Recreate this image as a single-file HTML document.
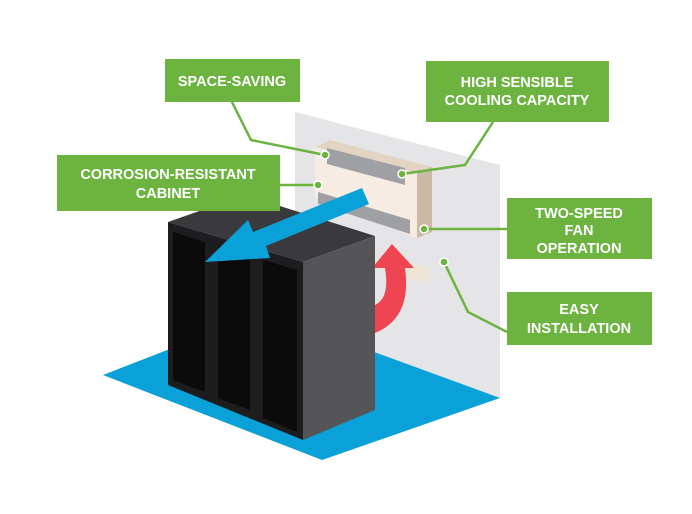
<!DOCTYPE html>
<html><head><style>
html,body{margin:0;padding:0;background:#fff;}
svg{display:block;}
text{font-family:"Liberation Sans",sans-serif;font-weight:bold;fill:#fff;font-size:14.5px;text-anchor:middle;}
</style></head><body>
<svg width="692" height="514" viewBox="0 0 692 514">
<!-- wall -->
<polygon points="295,112 500,165 500,398 295,340" fill="#e5e5e7"/>
<!-- floor -->
<polygon points="103,375 265,312 500,398 322,460" fill="#0aa0d8"/>
<!-- outlet -->
<polygon points="405,262 430,268 430,283 405,277" fill="#efe3d6"/>
<!-- red arrow -->
<path d="M375,333 Q412,318 405,268 L414,268 L392,244 L372,268 L385,268 Q390,298 375,305 Z" fill="#ef4452"/>
<!-- AC unit -->
<polygon points="315,147 330,140 432,167 417,173" fill="#e3d3c3"/>
<polygon points="417,173 432,167 432,232 417,238" fill="#cbb8a5"/>
<polygon points="315,147 417,173 417,238 315,197" fill="#f6ece3"/>
<polygon points="327,148 405,168 405,185 327,164" fill="#9fa0a3"/>
<polygon points="318,192 410,220 410,234 318,204" fill="#9fa0a3"/>
<!-- cabinet -->
<polygon points="168,222 245,195 375,236 303,262" fill="#3a3a3c"/>
<polygon points="168,222 303,262 303,440 168,385" fill="#1d1d1f"/>
<polygon points="303,262 375,236 375,410 303,440" fill="#555557"/>
<polygon points="173,232 205,242 205,392 173,380" fill="#0b0b0c"/>
<polygon points="218,246 250,256 250,410 218,398" fill="#0b0b0c"/>
<polygon points="263,260 297,270 297,432 263,418" fill="#0b0b0c"/>
<!-- blue arrow -->
<polygon points="362,188 369,204 266,246 270,258 205,262 248,220 253,232" fill="#0aa0d8"/>
<!-- leader lines -->
<g stroke="#6cb33f" stroke-width="2.5" fill="none">
<polyline points="231,100 251,140 325,155"/>
<polyline points="493,122 465,165 402,174"/>
<polyline points="279,185 318,185"/>
<polyline points="507,229 424,229"/>
<polyline points="507,332 468,312 444,262"/>
</g>
<g fill="#6cb33f" stroke="#fff" stroke-width="1.5">
<circle cx="325" cy="155" r="4"/><circle cx="402" cy="174" r="4"/><circle cx="318" cy="185" r="4"/><circle cx="424" cy="229" r="4"/><circle cx="444" cy="262" r="4"/>
</g>
<!-- labels -->
<g fill="#6cb33f">
<rect x="165" y="59" width="135" height="43"/>
<rect x="426" y="61" width="183" height="61"/>
<rect x="57" y="155" width="223" height="56"/>
<rect x="507" y="198" width="145" height="61"/>
<rect x="507" y="292" width="145" height="53"/>
</g>
<text x="232" y="86">SPACE-SAVING</text>
<text x="517" y="87">HIGH SENSIBLE</text>
<text x="517" y="105">COOLING CAPACITY</text>
<text x="168" y="179">CORROSION-RESISTANT</text>
<text x="168" y="198">CABINET</text>
<text x="579" y="218">TWO-SPEED</text>
<text x="579" y="235">FAN</text>
<text x="579" y="253">OPERATION</text>
<text x="579" y="314">EASY</text>
<text x="579" y="333">INSTALLATION</text>
</svg>
</body></html>
